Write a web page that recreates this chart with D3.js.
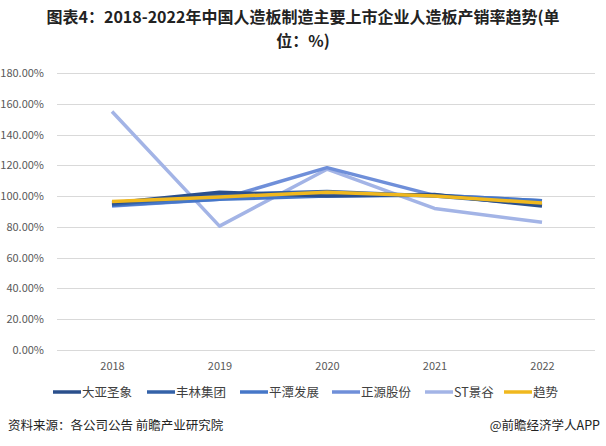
<!DOCTYPE html>
<html>
<head>
<meta charset="utf-8">
<script src="https://cdn.jsdelivr.net/npm/d3@7"></script>
<style>
body{margin:0;background:#fff;}
svg{display:block;font-family:"Microsoft YaHei","Noto Sans CJK SC",sans-serif;}
</style>
</head>
<body>
<div id="chart"></div>
<script>
// data
var years = ["2018","2019","2020","2021","2022"];
var seriesNames = ["大亚圣象","丰林集团","平潭发展","正源股份","ST景谷","趋势"];
var daya = [95.5, 102.5, 100, 101, 93.5];
var fenglin = [94.5, 101, 103, 100, 94.5];
var pingtan = [94, 98, 100, 100.5, 97];
var zhengyuan = [93.5, 98, 118.5, 100.5, 97];
var stjinggu = [155, 80.5, 117.5, 92, 83];
var trend = [96.5, 99.5, 102.5, 100, 95.5];
var yTicks = [0,20,40,60,80,100,120,140,160,180];
var colors = ["#2a4f8c","#3462a8","#4677c8","#6f8fd9","#a3b4e6","#f0b81e"];

var W = 606, H = 446;
var margin = {top:73, left:57, right:11, bottom:96};
var svg = d3.select("#chart").append("svg").attr("width",W).attr("height",H);

svg.append("text").attr("x",W/2).attr("y",23).attr("text-anchor","middle")
	.attr("font-size",16).attr("font-weight","bold").attr("fill","#222")
	.text("图表4：2018-2022年中国人造板制造主要上市企业人造板产销率趋势(单");
svg.append("text").attr("x",W/2).attr("y",47).attr("text-anchor","middle")
	.attr("font-size",16).attr("font-weight","bold").attr("fill","#222")
	.text("位：%)");

var x = d3.scalePoint().domain(years).range([112,542]);
var y = d3.scaleLinear().domain([0,180]).range([H-margin.bottom, margin.top]);

svg.append("g").selectAll("line").data(yTicks).enter().append("line")
	.attr("x1",margin.left).attr("x2",W-margin.right)
	.attr("y1",function(d){ return Math.round(y(d))+0.5; })
	.attr("y2",function(d){ return Math.round(y(d))+0.5; })
	.attr("stroke","#d9d9d9").attr("stroke-width",1);

var yAxis = svg.append("g").attr("transform","translate("+(margin.left-10)+",0)")
	.call(d3.axisLeft(y).tickValues(yTicks).tickSize(0).tickFormat(function(d){ return d.toFixed(2)+"%"; }));
yAxis.select(".domain").remove();
yAxis.selectAll("text").attr("font-size",11).attr("fill","#595959").attr("font-family","'Microsoft YaHei','Noto Sans CJK SC',sans-serif");

var xAxis = svg.append("g").attr("transform","translate(0,"+(H-margin.bottom)+")")
	.call(d3.axisBottom(x).tickSize(0).tickPadding(12));
xAxis.select(".domain").remove();
xAxis.selectAll("text").attr("font-size",11).attr("fill","#595959").attr("font-family","'Microsoft YaHei','Noto Sans CJK SC',sans-serif");

var all = [daya, fenglin, pingtan, zhengyuan, stjinggu, trend];
var line = d3.line().x(function(d,i){ return x(years[i]); }).y(function(d){ return y(d); });
// draw ST first so the cluster lies over it like the picture
var order = [4,3,2,1,0,5];
order.forEach(function(k){
	svg.append("path").datum(all[k]).attr("d",line).attr("fill","none")
		.attr("stroke",colors[k]).attr("stroke-width",3.5).attr("stroke-linejoin","round");
});

//legend
var legX = [53,147,240,332,425,504];
var leg = svg.append("g").selectAll("g").data(seriesNames).enter().append("g")
	.attr("transform",function(d,i){ return "translate("+legX[i]+",392)"; });
leg.append("line").attr("x1",0).attr("x2",28).attr("stroke",function(d,i){ return colors[i]; }).attr("stroke-width",3.5);
leg.append("text").attr("x",29).attr("y",4.5).attr("font-size",12.5).attr("fill","#404040").text(function(d){ return d; });

svg.append("text").attr("x",8).attr("y",430).attr("font-size",12.5).attr("fill","#222")
	.text("资料来源：各公司公告 前瞻产业研究院");
svg.append("text").attr("x",600).attr("y",430).attr("text-anchor","end").attr("font-size",12.5).attr("fill","#222")
	.text("@前瞻经济学人APP");
</script>
</body>
</html>
